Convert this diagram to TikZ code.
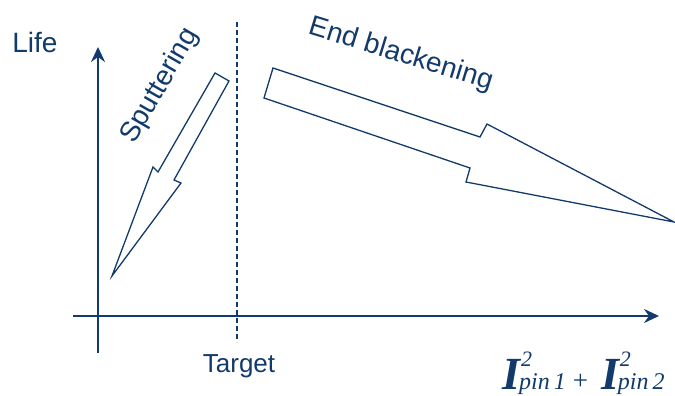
\documentclass[tikz,border=0pt]{standalone}
\usepackage{fontspec}
\setmainfont{Liberation Sans}
\newfontfamily\tnr{Liberation Serif}
\usetikzlibrary{arrows.meta}
\definecolor{navy}{RGB}{18,58,106}
\newcommand{\Ipin}[1]{{\bfseries\itshape I}\rlap{\kern1pt\raisebox{0.48em}{\fontsize{22}{22}\selectfont\itshape 2}}\kern-1pt{\fontsize{24}{24}\selectfont\itshape pin\,#1}}

\begin{document}
\begin{tikzpicture}[
    x=1pt, y=-1pt,
    axis/.style={draw=navy, line width=1.8pt, -{Stealth[length=15pt,width=14pt,inset=5pt]}},
    fatarrow/.style={draw=navy, line width=1.3pt, line join=miter, fill=white},
    lbl/.style={text=navy, inner sep=0pt, font=\fontsize{28}{30}\selectfont}
    ]
    \useasboundingbox (0,0) rectangle (675,396);
    \coordinate (xstart) at (73,316);
    \coordinate (xend) at (659,316);
    \coordinate (ystart) at (98,353);
    \coordinate (yend) at (98,47);
    \coordinate (ttop) at (237,22);
    \coordinate (tbot) at (237,342);

    \draw[axis] (xstart) -- (xend);
    \draw[axis] (ystart) -- (yend);
    \draw[navy, line width=1.2pt, dash pattern=on 5pt off 3pt] (ttop) -- (tbot);

    % hollow arrows
    \draw[fatarrow] (215,73) -- (229,81) -- (174,180) -- (181,183) -- (112,276) -- (153,167) -- (158,172) -- cycle;
    \draw[fatarrow] (273,68) -- (480,137) -- (487,124) -- (674,222) -- (466,182) -- (470,168) -- (264,98) -- cycle;

    \node[lbl] (life) at (35,42) {Life};
    \node[lbl, rotate=60] (sput) at (160,86) {Sputtering};
    \node[lbl, rotate=-17] (endb) at (401,55) {End blackening};
    \node[lbl, font=\fontsize{26}{28}\selectfont] (target) at (239,366) {Target};
    \node[lbl, anchor=base west, font=\tnr\fontsize{46}{50}\selectfont] (current) at (502,389)
        {\Ipin{1}\kern7pt{\fontsize{27}{27}\selectfont +}\kern13pt\Ipin{2}};
  \end{tikzpicture}
\end{document}
